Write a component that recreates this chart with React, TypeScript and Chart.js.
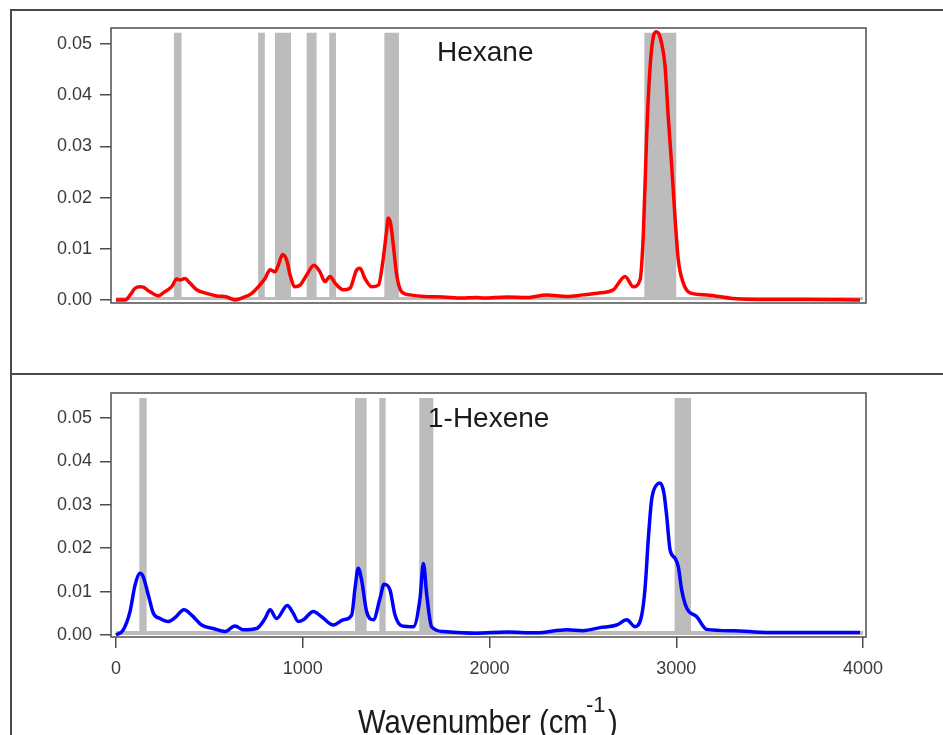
import { useEffect, useRef } from "react";
import { Chart, registerables } from "chart.js";

Chart.register(...registerables);

// Axis ticks
const wavenumberTicks = [0, 1000, 2000, 3000, 4000];
const intensityTicks = [0, 0.01, 0.02, 0.03, 0.04, 0.05];

// Hexane spectrum (wavenumber in cm^-1, intensity)
const hexaneWavenumber = [
  0, 50, 80, 102, 128, 146, 182, 227, 253, 298, 325, 343, 369, 396, 432, 485, 539, 593, 637, 682,
  727, 762, 798, 825, 851, 869, 892, 914, 932, 958, 985, 1021, 1060, 1092, 1119, 1146, 1173, 1217,
  1253, 1289, 1307, 1333, 1369, 1405, 1431, 1449, 1458, 1470, 1485, 1503, 1530, 1574, 1650, 1753,
  1850, 1931, 1966, 2092, 2200, 2306, 2413, 2500, 2592, 2663, 2726, 2770, 2806, 2824, 2842, 2860,
  2877, 2892, 2913, 2940, 2957, 2976, 2993, 3011, 3038, 3074, 3163, 3305, 3484, 3700, 3984,
];
const hexaneIntensity = [
  0.0, 0.0, 0.0012, 0.0023, 0.0026, 0.0025, 0.0016, 0.0008, 0.0014, 0.0026, 0.0041, 0.0039, 0.0042,
  0.0033, 0.002, 0.0013, 0.0008, 0.0006, 0.0, 0.0005, 0.0013, 0.0026, 0.0042, 0.0059, 0.0055,
  0.0068, 0.0089, 0.0078, 0.0049, 0.0026, 0.0029, 0.0049, 0.0068, 0.0055, 0.0036, 0.0046, 0.0033,
  0.002, 0.0023, 0.0059, 0.0062, 0.0042, 0.0026, 0.0029, 0.0081, 0.0135, 0.016, 0.015, 0.0107,
  0.0049, 0.0016, 0.001, 0.0007, 0.0006, 0.0004, 0.0005, 0.0004, 0.0006, 0.0005, 0.001, 0.0007,
  0.001, 0.0014, 0.002, 0.0046, 0.0026, 0.0039, 0.0131, 0.0326, 0.0456, 0.0514, 0.0524, 0.0514,
  0.0456, 0.0358, 0.026, 0.0163, 0.0078, 0.0033, 0.0014, 0.001, 0.0003, 0.0001, 0.0001, 0.0,
];

// 1-Hexene spectrum (wavenumber in cm^-1, intensity)
const hexeneWavenumber = [
  0, 39, 75, 102, 128, 146, 173, 200, 236, 280, 316, 364, 405, 459, 521, 584, 637, 682, 753, 798,
  825, 860, 917, 949, 976, 1003, 1057, 1101, 1164, 1217, 1262, 1280, 1297, 1315, 1342, 1378, 1414,
  1435, 1467, 1494, 1530, 1592, 1628, 1646, 1664, 1690, 1753, 1931, 2092, 2250, 2413, 2500, 2592,
  2681, 2735, 2779, 2815, 2833, 2850, 2868, 2895, 2913, 2934, 2949, 2967, 2993, 3011, 3029, 3056,
  3110, 3163, 3305, 3484, 3700, 3984,
];
const hexeneIntensity = [
  0.0, 0.0012, 0.0054, 0.0115, 0.0142, 0.0134, 0.0092, 0.005, 0.0038, 0.0031, 0.004, 0.0058, 0.0046,
  0.0023, 0.0015, 0.0008, 0.0021, 0.0012, 0.0015, 0.0038, 0.0058, 0.0038, 0.0068, 0.005, 0.0031,
  0.0035, 0.0054, 0.0042, 0.0023, 0.0035, 0.0046, 0.0108, 0.0154, 0.0127, 0.0054, 0.0035, 0.0085,
  0.0117, 0.0104, 0.0046, 0.0021, 0.0019, 0.0085, 0.0165, 0.0092, 0.0019, 0.0008, 0.0004, 0.0007,
  0.0005, 0.0012, 0.001, 0.0017, 0.0023, 0.0035, 0.0019, 0.0046, 0.0108, 0.0219, 0.0311, 0.0346,
  0.035, 0.0327, 0.0273, 0.0196, 0.0177, 0.0157, 0.0104, 0.0062, 0.0042, 0.0013, 0.001, 0.0006,
  0.0006, 0.0006,
];

// Calculated band positions (start, end) shown as gray bars
const hexaneBands = [
  [310, 351], [761, 797], [851, 937], [1021, 1074], [1142, 1178], [1437, 1515], [2829, 3000],
];
const hexeneBands = [
  [125, 164], [1280, 1342], [1410, 1444], [1624, 1699], [2991, 3079],
];

const FONT = "'Liberation Sans', Arial, Helvetica, sans-serif";
const AXIS_COLOR = "#4d4d4d";
const TICK_TEXT = "#3a3a3a";

function bandOutline(bands: number[][], top: number, base: number) {
  const pts: { x: number; y: number }[] = [{ x: 0, y: base }];
  for (const [a, b] of bands) {
    pts.push({ x: a, y: base }, { x: a, y: top }, { x: b, y: top }, { x: b, y: base });
  }
  pts.push({ x: 4000, y: base });
  return pts;
}

function zip(xs: number[], ys: number[]) {
  return xs.map((x, i) => ({ x, y: ys[i] }));
}

function panelPlugin(label: string, lx: number, ly: number, withTitle: boolean) {
  return {
    id: "panelDecor",
    afterDraw(chart: Chart) {
      const { ctx, chartArea } = chart;
      ctx.save();
      ctx.strokeStyle = AXIS_COLOR;
      ctx.lineWidth = 1.5;
      ctx.strokeRect(chartArea.left, chartArea.top, chartArea.right - chartArea.left, chartArea.bottom - chartArea.top);

      ctx.fillStyle = "#1a1a1a";
      ctx.textBaseline = "alphabetic";
      ctx.textAlign = "left";
      ctx.font = `28px ${FONT}`;
      ctx.fillText(label, lx, ly);

      if (withTitle) {
        // Condensed axis title with a superscript exponent
        const sx = 0.86;
        ctx.font = `34px ${FONT}`;
        ctx.save();
        ctx.translate(358, 360);
        ctx.scale(sx, 1);
        ctx.fillText("Wavenumber (cm", 0, 0);
        ctx.restore();
        ctx.font = `22px ${FONT}`;
        ctx.fillText("-1", 586, 339);
        ctx.font = `34px ${FONT}`;
        ctx.save();
        ctx.translate(608, 360);
        ctx.scale(sx, 1);
        ctx.fillText(")", 0, 0);
        ctx.restore();
      }
      ctx.restore();
    },
  };
}

function buildChart(
  canvas: HTMLCanvasElement,
  opts: {
    xs: number[];
    ys: number[];
    color: string;
    bands: number[][];
    bandTop: number;
    bandBase: number;
    yMin: number;
    yMax: number;
    showX: boolean;
    padding: { left: number; top: number; right: number; bottom: number };
    label: string;
    lx: number;
    ly: number;
  }
) {
  return new Chart(canvas, {
    type: "line",
    data: {
      datasets: [
        {
          data: zip(opts.xs, opts.ys),
          borderColor: opts.color,
          borderWidth: 3.5,
          pointRadius: 0,
          cubicInterpolationMode: "monotone",
          fill: false,
          order: 0,
        },
        {
          data: bandOutline(opts.bands, opts.bandTop, opts.bandBase),
          borderWidth: 0,
          borderColor: "rgba(0,0,0,0)",
          backgroundColor: "#bcbcbc",
          pointRadius: 0,
          tension: 0,
          fill: "origin",
          order: 1,
        },
      ],
    },
    options: {
      responsive: false,
      animation: false,
      events: [],
      layout: { padding: opts.padding },
      plugins: { legend: { display: false }, tooltip: { enabled: false } },
      scales: {
        x: {
          type: "linear",
          display: opts.showX,
          min: -26.8,
          max: 4016,
          afterBuildTicks: (s: any) => {
            s.ticks = wavenumberTicks.map((v) => ({ value: v }));
          },
          afterFit: (s: any) => {
            s.height = opts.showX ? 40 : 0;
          },
          border: { display: false },
          grid: { drawOnChartArea: false, drawTicks: true, tickLength: 11, color: AXIS_COLOR, lineWidth: 1.5 },
          ticks: {
            padding: 10,
            color: TICK_TEXT,
            font: { family: FONT, size: 18 },
            maxRotation: 0,
            callback: (v: any) => String(v),
          },
        },
        y: {
          type: "linear",
          min: opts.yMin,
          max: opts.yMax,
          afterBuildTicks: (s: any) => {
            s.ticks = intensityTicks.map((v) => ({ value: v }));
          },
          afterFit: (s: any) => {
            s.width = 111;
          },
          border: { display: false },
          grid: { drawOnChartArea: false, drawTicks: true, tickLength: 11, color: AXIS_COLOR, lineWidth: 1.5 },
          ticks: {
            padding: 8,
            color: TICK_TEXT,
            font: { family: FONT, size: 18 },
            callback: (v: any) => Number(v).toFixed(2),
          },
        },
      },
    },
    plugins: [panelPlugin(opts.label, opts.lx, opts.ly, opts.showX)],
  } as any);
}

export default function App() {
  const topRef = useRef<HTMLCanvasElement>(null);
  const bottomRef = useRef<HTMLCanvasElement>(null);

  useEffect(() => {
    const top = buildChart(topRef.current!, {
      xs: hexaneWavenumber,
      ys: hexaneIntensity,
      color: "#ff0000",
      bands: hexaneBands,
      bandTop: 0.0522,
      bandBase: 0.0006,
      yMin: -0.000586,
      yMax: 0.053125,
      showX: false,
      padding: { left: 0, top: 28, right: 77, bottom: 70 },
      label: "Hexane",
      lx: 437,
      ly: 61,
    });
    const bottom = buildChart(bottomRef.current!, {
      xs: hexeneWavenumber,
      ys: hexeneIntensity,
      color: "#0000ff",
      bands: hexeneBands,
      bandTop: 0.0546,
      bandBase: 0.0009,
      yMin: -0.00046,
      yMax: 0.05576,
      showX: true,
      padding: { left: 0, top: 20, right: 77, bottom: 58 },
      label: "1-Hexene",
      lx: 428,
      ly: 54,
    });
    return () => {
      top.destroy();
      bottom.destroy();
    };
  }, []);

  return (
    <div
      style={{
        position: "absolute",
        left: 0,
        top: 0,
        width: 943,
        height: 735,
        overflow: "hidden",
        background: "#ffffff",
      }}
    >
      <div
        style={{
          position: "absolute",
          left: 10,
          top: 9,
          width: 960,
          height: 362,
          border: "2px solid #4a4a4a",
        }}
      />
      <div style={{ position: "absolute", left: 10, top: 373, width: 2, height: 400, background: "#4a4a4a" }} />
      <canvas ref={topRef} width={943} height={373} style={{ position: "absolute", left: 0, top: 0 }} />
      <canvas ref={bottomRef} width={943} height={362} style={{ position: "absolute", left: 0, top: 373 }} />
    </div>
  );
}
